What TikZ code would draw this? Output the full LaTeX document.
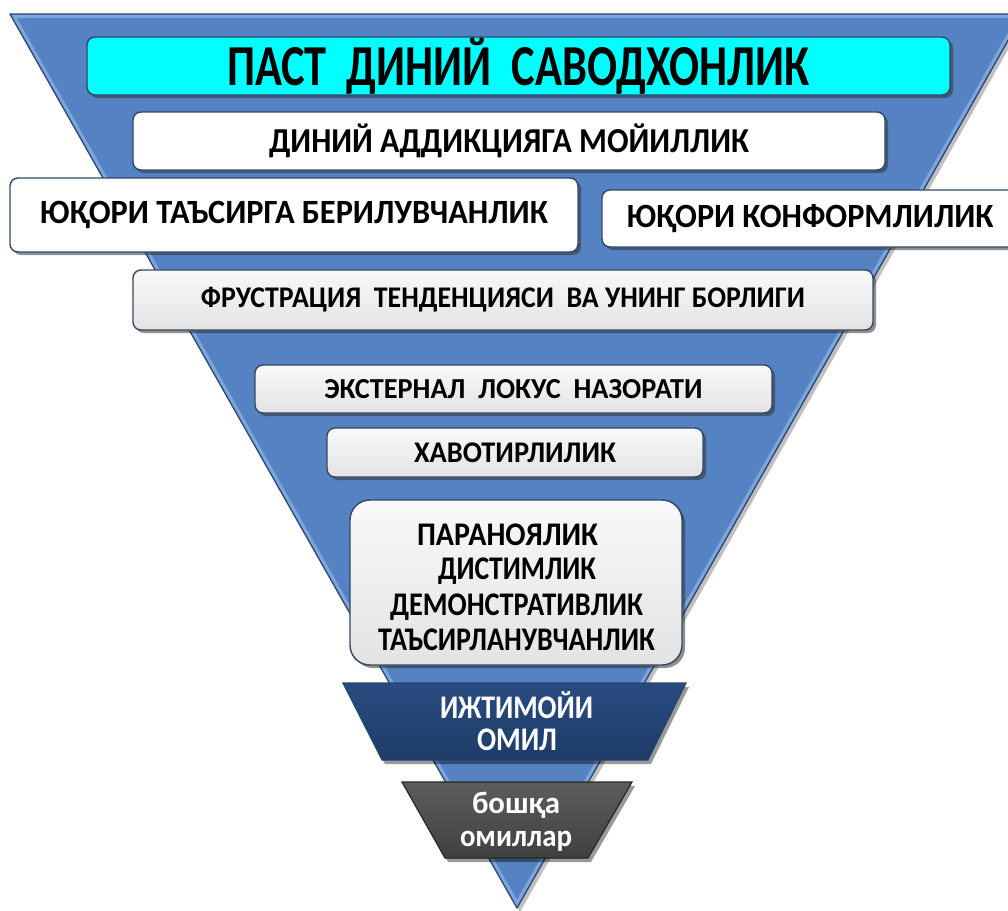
\documentclass[tikz,border=0pt]{standalone}
\usepackage{fontspec}
\setmainfont{Carlito}
\usetikzlibrary{shadows}
\definecolor{trifill}{RGB}{84,130,194}
\definecolor{trilight}{RGB}{125,165,220}
\definecolor{triedge}{RGB}{40,70,110}
\definecolor{boxedge}{RGB}{50,72,100}
\definecolor{aqua}{RGB}{0,255,255}
\definecolor{navy}{RGB}{31,60,104}
\definecolor{navytop}{RGB}{40,75,128}
\definecolor{darkgrey}{RGB}{64,64,64}
\newcommand{\fw}[3]{\resizebox{#1pt}{\height}{\fontsize{#2}{#2}\selectfont\bfseries #3}}
\tikzset{
  box/.style={draw=boxedge, line width=1.4pt, rounded corners=8pt, inner sep=0pt,
    drop shadow={shadow xshift=3pt, shadow yshift=-3pt, opacity=0.55, fill=black!80}},
  whitebox/.style={box, fill=white},
  greybox/.style={box, top color=gray!5, bottom color=gray!22},
  lbl/.style={inner sep=0pt, text=black},
  wlbl/.style={inner sep=0pt, text=white},
}
\begin{document}
\begin{tikzpicture}[x=1pt, y=-1pt]
\useasboundingbox (0,0) rectangle (1008,910);
\begin{scope}
\clip (0,0) rectangle (1008,910);
% big inverted triangle
\fill[black, opacity=0.25] (13,18) -- (1026,18) -- (520,912) -- cycle;
\fill[trifill] (10,14) -- (1023,14) -- (517,908) -- cycle;
\begin{scope}
\clip (10,14) -- (1023,14) -- (517,908) -- cycle;
\draw[trilight, line width=8pt] (10,14) -- (1023,14) -- (517,908) -- cycle;
\end{scope}
\draw[triedge, line width=1.3pt, line join=round] (10,14) -- (1023,14) -- (517,908) -- cycle;

% boxes
\node[box, fill=aqua, minimum width=863pt, minimum height=58pt] (b1) at (518.5,66)
  {\fw{582}{58}{ПАСТ\ \ ДИНИЙ\ \ САВОДХОНЛИК}};
\node[whitebox, minimum width=752pt, minimum height=58pt] (b2) at (509,141)
  {\fw{480}{35}{ДИНИЙ АДДИКЦИЯГА МОЙИЛЛИК}};
\node[whitebox, minimum width=568pt, minimum height=74pt] (b3) at (294,215)
  {\fw{508}{34}{ЮҚОРИ ТАЪСИРГА БЕРИЛУВЧАНЛИК}};
\node[whitebox, minimum width=416pt, minimum height=57pt] (b4) at (810,218.5)
  {\fw{367}{34}{ЮҚОРИ КОНФОРМЛИЛИК}};
\node[greybox, minimum width=740pt, minimum height=60pt] (b5) at (503,300)
  {\fw{604}{30}{ФРУСТРАЦИЯ\ \ ТЕНДЕНЦИЯСИ\ \ ВА УНИНГ БОРЛИГИ}};
\node[greybox, minimum width=517pt, minimum height=48pt] (b6) at (513.5,389)
  {\fw{378}{29}{ЭКСТЕРНАЛ\ \ ЛОКУС\ \ НАЗОРАТИ}};
\node[greybox, minimum width=376pt, minimum height=49pt] (b7) at (515,452.5)
  {\fw{202}{30}{ХАВОТИРЛИЛИК}};
\node[greybox, rounded corners=20pt, minimum width=332pt, minimum height=165pt] (b8) at (516,582.5) {};
\node[lbl, anchor=base] (t81) at (507.5,545) {\fw{181}{33}{ПАРАНОЯЛИК}};
\node[lbl, anchor=base] (t82) at (517,579) {\fw{158}{33}{ДИСТИМЛИК}};
\node[lbl, anchor=base] (t83) at (516.5,615) {\fw{253}{33}{ДЕМОНСТРАТИВЛИК}};
\node[lbl, anchor=base] (t84) at (516.5,650) {\fw{277}{33}{ТАЪСИРЛАНУВЧАНЛИК}};

% social factor trapezoid
\fill[black, opacity=0.4] (346,687) -- (689,687) -- (651,764) -- (385,764) -- cycle;
\draw[triedge, line width=1.2pt, top color=navytop, bottom color=navy]
  (343,683) -- (686,683) -- (648,760) -- (382,760) -- cycle;
\node[wlbl, anchor=base] (t91) at (516.5,718) {\fw{153}{33}{ИЖТИМОЙИ}};
\node[wlbl, anchor=base] (t92) at (517,750) {\fw{80}{33}{ОМИЛ}};

% other factors trapezoid
\fill[black, opacity=0.4] (405,786) -- (635,786) -- (591,862) -- (448,862) -- cycle;
\draw[black!85, line width=1.2pt, top color=darkgrey!85, bottom color=darkgrey]
  (402,782) -- (632,782) -- (588,858) -- (445,858) -- cycle;
\node[wlbl, anchor=base] (t101) at (516,813) {\fw{88}{31}{бошқа}};
\node[wlbl, anchor=base] (t102) at (516,846) {\fw{112}{31}{омиллар}};
\end{scope}
\end{tikzpicture}
\end{document}
